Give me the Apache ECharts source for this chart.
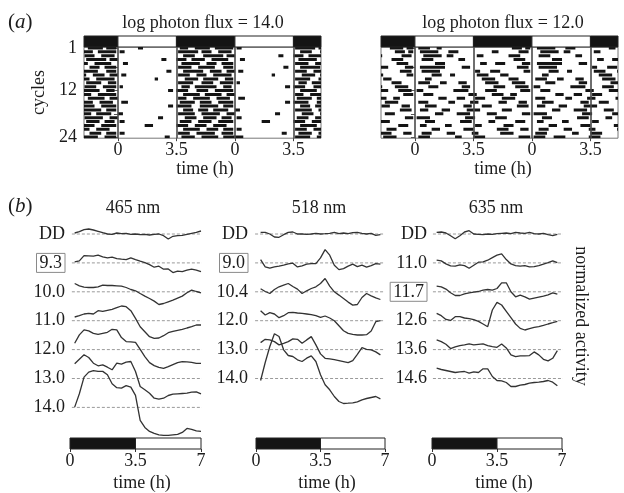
<!DOCTYPE html>
<html>
<head>
<meta charset="utf-8">
<script src="https://cdn.jsdelivr.net/npm/echarts@6/dist/echarts.min.js"></script>
<style>
html,body{margin:0;padding:0;background:#fff;}
#chart{width:624px;height:493px;}
</style>
</head>
<body>
<div id="chart"></div>
<script>
// ---------------- DATA ----------------
// (a) actogram: activity bouts per 7-h cycle, [start h, end h] within the cycle (cycles 0..25)
const bouts14 = [
  [[5.2,6.1],[6.3,6.9]],
  [[1.2,1.5],[3.7,4.2],[4.6,5.5],[5.8,6.9]],
  [[0.1,0.4],[3.6,4.8],[5.0,5.6],[6.0,6.8]],
  [[3.9,4.6],[5.1,6.3],[6.5,7.0]],
  [[2.6,2.9],[3.5,4.1],[4.4,5.2],[5.6,6.6]],
  [[0.3,0.6],[3.8,4.9],[5.3,5.9],[6.2,6.9]],
  [[3.6,4.4],[4.8,5.8],[6.3,6.9]],
  [[2.9,3.2],[3.9,5.1],[5.5,6.2],[6.5,7.0]],
  [[0.2,0.5],[3.6,4.3],[4.7,5.3],[5.7,6.8]],
  [[2.2,2.4],[4.0,4.8],[5.1,6.0],[6.4,6.9]],
  [[3.6,4.5],[5.0,5.7],[6.1,6.9]],
  [[0.1,0.3],[3.8,4.3],[4.6,5.9],[6.3,6.8]],
  [[3.0,3.3],[3.5,4.2],[4.7,5.4],[5.8,6.9]],
  [[3.9,4.9],[5.2,6.2],[6.5,7.0]],
  [[3.6,4.1],[4.5,5.5],[5.9,6.7]],
  [[0.2,0.6],[3.7,4.6],[4.9,5.6],[6.0,6.9]],
  [[3.0,3.3],[3.5,4.4],[4.9,6.0],[6.3,6.9]],
  [[3.9,4.5],[4.8,5.4],[5.7,6.6]],
  [[0.0,0.3],[3.6,4.6],[5.0,6.1],[6.5,7.0]],
  [[2.4,2.7],[4.0,4.7],[5.1,5.9],[6.2,6.8]],
  [[0.1,0.4],[3.7,4.4],[4.8,5.6],[6.0,6.9]],
  [[1.6,2.1],[3.5,4.2],[4.6,5.3],[5.7,6.5]],
  [[3.9,4.9],[5.3,6.0],[6.3,6.9]],
  [[0.1,0.4],[3.6,4.3],[4.7,5.8],[6.2,6.9]],
  [[2.8,3.1],[3.8,4.6],[5.0,6.0],[6.3,7.0]],
  [[0.0,0.5],[3.6,4.5],[4.9,5.8]]
];
const bouts12 = [
  [[5.5,6.3],[6.5,6.9]],
  [[0.2,0.9],[1.3,1.6],[5.8,6.4],[6.6,6.9]],
  [[0.3,1.4],[2.0,2.6],[4.6,5.0],[6.2,6.8]],
  [[0.5,1.6],[1.9,2.3],[3.7,4.1],[5.6,6.3]],
  [[0.4,1.1],[2.6,3.0],[5.9,6.6]],
  [[1.2,1.8],[3.9,4.3],[4.8,5.4],[6.4,6.9]],
  [[0.3,1.8],[2.8,3.3],[6.1,6.8]],
  [[0.4,1.5],[3.6,3.9],[4.5,5.1],[6.5,6.9]],
  [[1.0,1.6],[2.1,2.4],[3.7,4.4],[5.1,5.6]],
  [[0.6,1.0],[4.0,4.8],[5.6,6.2]],
  [[0.2,0.9],[1.5,1.9],[2.6,3.1],[4.2,5.0],[5.8,6.6]],
  [[0.8,1.4],[2.8,3.3],[4.7,5.4],[6.0,6.8]],
  [[0.1,0.5],[2.3,3.2],[4.2,4.9],[6.3,6.9]],
  [[0.5,1.1],[3.2,3.7],[4.6,5.3],[5.7,6.1]],
  [[1.4,1.9],[2.5,3.0],[3.6,4.2],[5.2,6.0]],
  [[0.2,0.8],[2.0,2.4],[3.3,3.8],[5.0,5.5],[6.2,6.7]],
  [[0.6,1.3],[2.9,3.4],[4.0,4.6],[6.1,6.8]],
  [[0.3,0.8],[1.6,2.1],[3.1,3.9],[5.2,5.8]],
  [[1.2,1.7],[2.5,3.3],[4.3,4.9],[6.4,6.9]],
  [[0.1,0.9],[3.0,3.6],[4.8,5.5]],
  [[0.6,1.2],[2.7,3.4],[4.4,4.8],[6.0,6.6]],
  [[0.3,0.7],[1.8,2.2],[3.6,4.0],[5.3,5.9]],
  [[1.0,1.5],[2.9,3.5],[4.9,5.6],[6.3,6.8]],
  [[0.4,1.0],[1.9,2.4],[3.4,3.8],[5.1,5.9]],
  [[0.2,0.9],[2.4,2.8],[3.5,4.2],[6.2,6.9]],
  [[0.1,0.8],[1.3,2.0],[3.4,4.1]]
];
const titlesA = ['log photon flux = 14.0', 'log photon flux = 12.0'];
const cycleTicks = [1, 6, 12, 18, 24];
const cycleLabels = [1, 12, 24];
const timeTicksA = [0, 3.5, 7, 10.5];
const phaseA = [[0, 3.5, 'light'], [3.5, 7, 'dark']];
const phaseB = [[0, 3.5, 'dark'], [3.5, 7, 'light']];

// (b) normalized activity traces; time points (h)
const timeB = [0.25,0.5,0.75,1,1.25,1.5,1.75,2,2.25,2.5,2.75,3,3.25,3.5,3.75,4,4.25,4.5,4.75,5,5.25,5.5,5.75,6,6.25,6.5,6.75,7];
const wavelengths = ['465 nm', '518 nm', '635 nm'];
const labels465 = ['DD', '9.3', '10.0', '11.0', '12.0', '13.0', '14.0'];
const labels518 = ['DD', '9.0', '10.4', '12.0', '13.0', '14.0'];
const labels635 = ['DD', '11.0', '11.7', '12.6', '13.6', '14.6'];
const boxedLabels = ['9.3', '9.0', '11.7'];
const act465 = [
  [1,2.3,4.3,5,4,2.7,1.3,0,-0.3,1,0.3,0.7,-0.3,0,-0.7,-0.3,-1,-0.3,0,-1.7,-5,-2.3,-1.7,-1.3,-0.3,0.7,1.7,3],
  [1,2,7.3,7,6.7,7.7,6,5,5.7,4.3,3.7,3.3,5,3.3,1.7,0.3,-1.7,-4.3,-3.3,-6.3,-6,-9.7,-8.3,-8.7,-7.3,-6.3,-7.3,-8.7],
  [8.3,6,4.7,4.3,4.3,5,6.7,6.3,6.3,6,5.7,4.3,2.3,1,-1.7,-4.3,-6.7,-9.3,-12.7,-11.7,-10,-8.3,-6.3,-4.3,-1,1.7,0.3,-1],
  [3.7,5,6.7,7.3,6.7,10,9.3,10.3,11.3,13,14.7,14,10,2.3,-6,-11,-16,-17.7,-17.3,-15,-12,-10.7,-9.7,-8.7,-7.3,-6,-4.3,-4.3],
  [6.3,14.7,19.7,18.7,16.3,15.3,16.3,17.3,20.3,19.7,12,8,7.7,7.3,0.3,-7,-13,-16,-17.7,-18.7,-17,-15,-13,-12,-12.3,-12.7,-13.7,-13.7],
  [14.7,19.3,23.7,21,15.3,12.7,13.7,11.3,8.7,15.3,14.3,16.3,17,7,-8,-11.3,-14.7,-19.7,-20.7,-19.7,-17,-15.7,-15.3,-15,-14.7,-13.7,-13.3,-15.3],
  [0.3,13.7,30.3,35.3,36.7,36,36,32.7,23.7,19.7,19.3,21.7,20.3,12,-13,-20,-24,-26,-27.5,-28,-28,-27.5,-27,-25,-21,-22,-23.5,-24]
];
const act518 = [
  [1.7,1.7,0,-3,-3.3,-0.7,1.7,2,0,0,-0.3,0,0.7,0,0.3,0.7,1.7,0.3,1,0.3,1.3,1.7,0.7,0,0.7,-1.3,-0.7],
  [3.3,-4,-5.3,-4,-3.3,-2.3,-1,-0.3,-4,-3,-1.3,-0.7,-0.7,5,13.3,7.7,-2.3,-6.7,-5.7,-3.3,-1.3,-3.7,-2.3,-4.3,-2.7,-0.7,-1.3],
  [3,0.3,-1.7,2.3,5,6.7,8.3,5.3,2.7,-1.7,1,3.3,5,8.3,13.3,5.7,0,-3.3,-6.7,-10.3,-13.3,-12.7,-5.7,-1.7,-4,-6,-7.7],
  [10,5.7,8,6.7,3,5,8,8.3,7.7,7.3,6.7,6,5,3.3,4.7,2.7,0,-5,-10,-12.7,-13.7,-14.3,-14.3,-14,-10.3,-1,0],
  [7,10.3,9.7,8,4.7,6.3,8,10.7,10.3,6.3,9.7,13,4.7,-4.3,-8.7,-9.3,-10,-11,-12,-13,-11,-4.7,2,0.3,-0.3,-2.3,-5.3],
  [-2,16,32,44.7,42,28.7,23,22,18.7,17,20.3,22.7,17,3.7,-6.3,-11.3,-18,-23,-25,-24.7,-24.3,-23.3,-21.3,-20,-19,-18,-20.3]
];
const act635 = [
  [1.7,2,1,-1.7,-4.7,-1.7,2,3.3,0,-0.3,-0.7,0,-0.3,0.3,0.7,1,0.3,1.7,1,0.7,1.7,0.3,0,0.7,-0.7,-1.7,-0.3],
  [2.7,2,-1,-3,-3.3,-2,-2.7,-5.3,-2.3,0.7,1,2.7,5.3,7.7,9,3.3,-1,-2.7,-3.3,-2.7,-4,-3.7,-2.7,-1.3,0.3,2,0.3],
  [5.7,5,2.7,-1,-3.7,-3.7,-2,-1,-0.3,0.3,1.7,2.3,1.7,3.3,9,9,0,-5,-3.3,-5,-7.3,-6.3,-5.3,-4.3,-3,-1,-2.3],
  [7.3,5,1.3,0.3,4,4,2.7,2,1,-0.7,-3.3,-6,10.7,18.3,15.7,9.3,3,-3.3,-7.7,-9.3,-8,-6.7,-6,-4.7,-3.3,-2,-0.7],
  [9.7,8,5.3,1,2.7,4,4.7,5.7,4.7,5.3,5.7,4,3,2.3,5.7,1.7,-5.3,-7,-6.3,-6.3,-6,-2.3,-5.3,-9.7,-11.3,-8.7,-1],
  [10.3,9,8,7,6,6.7,7,5.3,6.7,6,9.7,9.7,2,-2,-2.3,-4,-8,-8,-6.7,-6,-4.7,-4,-3.7,-3,-2,-3.7,-7.3]
];

// ---------------- LAYOUT / HELPERS ----------------
const FONT = "'Liberation Serif','DejaVu Serif',serif";
const INK = '#1c1c1c';
const X_MIN = -2.03, X_MAX = 12.15;
const ROW_STEP = 28.9;

function buildRaster(cycles) {
  const out = [];
  for (let r = 1; r <= 24; r++) {
    [[r - 1, -7], [r, 0], [r + 1, 7]].forEach(([c, off]) => {
      (cycles[c] || []).forEach(([s, e]) => {
        const a = s + off, b = e + off;
        if (b <= X_MIN || a >= X_MAX) return;
        out.push([Math.max(a, X_MIN), Math.min(b, X_MAX), r]);
      });
    });
  }
  return out;
}
function tilePhase(phase, lo, hi) {
  const out = [];
  for (let k = -1; k <= 2; k++) {
    phase.forEach(([s, e, kind]) => {
      const a = Math.max(s + 7 * k, lo), b = Math.min(e + 7 * k, hi);
      if (b > a) out.push([a, b, kind === 'dark' ? 1 : 0]);
    });
  }
  return out;
}
const rasterItem = (params, api) => {
  const p0 = api.coord([api.value(0), api.value(2)]);
  const p1 = api.coord([api.value(1), api.value(2)]);
  return { type: 'rect', shape: { x: p0[0], y: p0[1] - 1.5, width: Math.max(p1[0] - p0[0], 1.2), height: 3 },
           style: { fill: '#141414' } };
};
const barItem = (params, api) => {
  const cs = params.coordSys;
  const p0 = api.coord([api.value(0), 0.5]);
  const p1 = api.coord([api.value(1), 0.5]);
  return { type: 'rect', shape: { x: p0[0], y: cs.y, width: p1[0] - p0[0], height: cs.height },
           style: { fill: api.value(2) ? '#141414' : '#ffffff', stroke: '#222', lineWidth: 1 } };
};

const grid = [], xAxis = [], yAxis = [], series = [];

// ---- (a) actograms
const rasterPanels = [
  { left: 84, right: 624 - 321, data: bouts14, showLabels: true },
  { left: 381, right: 624 - 618, data: bouts12, showLabels: false }
];
rasterPanels.forEach((p) => {
  const gi = grid.length;
  grid.push({ left: p.left, right: p.right, top: 47, bottom: 493 - 138.2, show: true,
              borderColor: '#777', borderWidth: 1, backgroundColor: '#fff' });
  xAxis.push({ gridIndex: gi, type: 'value', min: X_MIN, max: X_MAX,
    axisLine: { show: false }, splitLine: { show: false },
    axisTick: { show: true, customValues: timeTicksA, length: 3, lineStyle: { color: '#444' } },
    axisLabel: { customValues: timeTicksA, margin: 3, fontSize: 18, fontFamily: FONT, color: INK,
                 formatter: v => String(Math.round((v % 7) * 10) / 10) } });
  yAxis.push({ gridIndex: gi, type: 'value', inverse: true, min: 0.75, max: 24.3,
    axisLine: { show: false }, splitLine: { show: false },
    axisTick: { show: true, customValues: cycleTicks, length: 4, lineStyle: { color: '#555' } },
    axisLabel: { show: p.showLabels, customValues: cycleLabels, margin: 7, fontSize: 18, fontFamily: FONT, color: INK },
    name: p.showLabels ? 'cycles' : '', nameLocation: 'middle', nameGap: 36,
    nameTextStyle: { fontSize: 18, fontFamily: FONT, color: INK } });
  series.push({ type: 'custom', xAxisIndex: gi, yAxisIndex: gi, renderItem: rasterItem,
    encode: { x: [0, 1], y: 2 }, data: buildRaster(p.data), clip: true, silent: true,
    markLine: { silent: true, symbol: 'none', label: { show: false },
      lineStyle: { color: '#4a4a4a', width: 1.6, type: 'solid' },
      data: timeTicksA.map(v => ({ xAxis: v })) } });
  // light/dark bar on top
  const bi = grid.length;
  grid.push({ left: p.left, right: p.right, top: 36, bottom: 493 - 47 });
  xAxis.push({ gridIndex: bi, type: 'value', min: X_MIN, max: X_MAX, show: false });
  yAxis.push({ gridIndex: bi, type: 'value', min: 0, max: 1, show: false });
  series.push({ type: 'custom', xAxisIndex: bi, yAxisIndex: bi, renderItem: barItem,
    encode: { x: [0, 1] }, data: tilePhase(phaseA, X_MIN, X_MAX), silent: true });
});

// ---- (b) traces
const tracePanels = [
  { left: 70, width: 131, labels: labels465, acts: act465, margin: 5, dash: [0.1, 7.05] },
  { left: 256, width: 129, labels: labels518, acts: act518, margin: 8, dash: [-0.05, 7.0] },
  { left: 432, width: 130, labels: labels635, acts: act635, margin: 5, dash: [0.05, 7.27] }
];
tracePanels.forEach((p) => {
  const gi = grid.length;
  grid.push({ left: p.left, width: p.width, top: 194, bottom: 55 });
  xAxis.push({ gridIndex: gi, type: 'value', min: 0, max: 7, show: false });
  const baseVals = p.labels.map((_, k) => -k * ROW_STEP);
  yAxis.push({ gridIndex: gi, type: 'value', min: -204, max: 40,
    axisLine: { show: false }, axisTick: { show: false }, splitLine: { show: false },
    axisLabel: { customValues: baseVals, margin: p.margin, fontSize: 18, fontFamily: FONT, color: INK,
      formatter: v => { const lab = p.labels[Math.round(-v / ROW_STEP)];
                        return boxedLabels.includes(lab) ? '{box|' + lab + '}' : lab; },
      rich: { box: { fontSize: 18, fontFamily: FONT, color: INK, borderColor: '#8a8a8a', borderWidth: 1,
                     padding: [1, 3, 0, 3] } } } });
  p.acts.forEach((vals, k) => {
    const base = -k * ROW_STEP;
    // dashed reference line for this row
    series.push({ type: 'line', xAxisIndex: gi, yAxisIndex: gi, showSymbol: false, silent: true, clip: false,
      lineStyle: { color: '#9a9a9a', width: 1, type: [3, 2] },
      data: [[p.dash[0], base], [p.dash[1], base]], z: 2 });
    series.push({ type: 'line', xAxisIndex: gi, yAxisIndex: gi, showSymbol: false, silent: true, clip: false,
      lineStyle: { color: '#333', width: 1.3 },
      data: vals.map((v, i) => [timeB[i], base + v]), z: 3 });
  });
  // light/dark bar below
  const bi = grid.length;
  grid.push({ left: p.left, width: p.width, top: 438, bottom: 493 - 449 });
  xAxis.push({ gridIndex: bi, type: 'value', min: 0, max: 7, interval: 3.5,
    axisLine: { show: false }, splitLine: { show: false },
    axisTick: { show: true, length: 3, lineStyle: { color: '#333' } },
    axisLabel: { margin: 3, fontSize: 18, fontFamily: FONT, color: INK, formatter: v => String(v) } });
  yAxis.push({ gridIndex: bi, type: 'value', min: 0, max: 1, show: false });
  series.push({ type: 'custom', xAxisIndex: bi, yAxisIndex: bi, renderItem: barItem,
    encode: { x: [0, 1] }, data: tilePhase(phaseB, 0, 7), silent: true });
});

// ---- text
const txt = (text, x, y, size, extra) => Object.assign({ type: 'text', x, y, silent: true,
  style: Object.assign({ text, fill: INK, font: size + 'px ' + FONT, align: 'center', verticalAlign: 'middle' },
                       extra || {}) });
const graphic = [
  { type: 'text', x: 8, y: 22, silent: true,
    style: { text: '({i|a})', fill: INK, font: '21px ' + FONT, align: 'left', verticalAlign: 'middle',
             rich: { i: { fontStyle: 'italic', fontSize: 21, fontFamily: FONT, fill: INK } } } },
  { type: 'text', x: 8, y: 206, silent: true,
    style: { text: '({i|b})', fill: INK, font: '21px ' + FONT, align: 'left', verticalAlign: 'middle',
             rich: { i: { fontStyle: 'italic', fontSize: 21, fontFamily: FONT, fill: INK } } } },
  txt(titlesA[0], 203, 23, 18),
  txt(titlesA[1], 503, 23, 18),
  txt('time (h)', 205, 169, 18),
  txt('time (h)', 503, 169, 18),
  txt(wavelengths[0], 133, 208, 18),
  txt(wavelengths[1], 319, 208, 18),
  txt(wavelengths[2], 496, 208, 18),
  txt('time (h)', 142, 483, 18),
  txt('time (h)', 327, 483, 18),
  txt('time (h)', 504, 483, 18),
  Object.assign(txt('normalized activity', 581, 316, 18), { rotation: -Math.PI / 2 })
];

const chart = echarts.init(document.getElementById('chart'), null, { renderer: 'canvas' });
chart.setOption({ animation: false, backgroundColor: '#fff', grid, xAxis, yAxis, series, graphic });
</script>
</body>
</html>
